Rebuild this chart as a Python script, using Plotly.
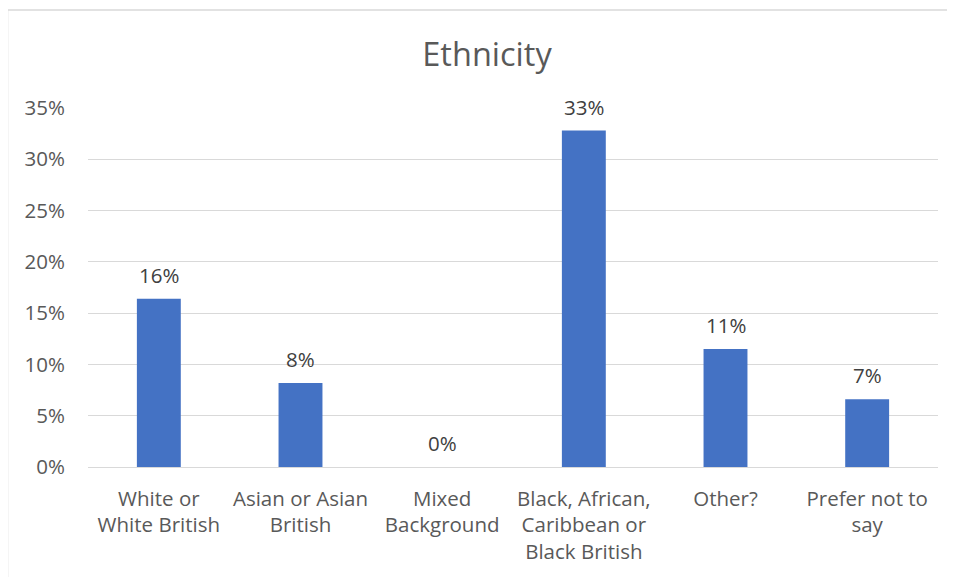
import plotly.graph_objects as go

categories = ["White or<br>White British", "Asian or Asian<br>British", "Mixed<br>Background",
              "Black, African,<br>Caribbean or<br>Black British", "Other?", "Prefer not to<br>say"]
values = [0.164, 0.082, 0.0, 0.328, 0.115, 0.066]
labels = ["16%", "8%", "0%", "33%", "11%", "7%"]
tick_vals = [0, 0.05, 0.10, 0.15, 0.20, 0.25, 0.30, 0.35]
tick_text = ["0%", "5%", "10%", "15%", "20%", "25%", "30%", "35%"]

font_family = "Open Sans, Liberation Sans, sans-serif"
fs = 20.5

fig = go.Figure(go.Bar(
    x=categories, y=values,
    marker=dict(color="#4472C4", line=dict(width=0)),
    width=0.31, cliponaxis=False, hoverinfo="x+y",
))
for c, v, t in zip(categories, values, labels):
    fig.add_annotation(x=c, y=v, text=t, showarrow=False, yanchor="bottom", yshift=8,
                       font=dict(size=fs, color="#404040", family=font_family))

fig.update_layout(
    width=947, height=569,
    margin=dict(l=80, r=17, t=100, b=104),
    paper_bgcolor="white", plot_bgcolor="white",
    title=dict(text="Ethnicity", x=(487 - 8) / 947, xref="container",
               y=1 - (55 - 8) / 569, yref="container",
               xanchor="center", yanchor="middle",
               font=dict(size=32.5, color="#595959", family=font_family)),
    showlegend=False,
    font=dict(family=font_family, color="#595959"),
)
fig.update_yaxes(range=[0, 0.35], tickvals=tick_vals, ticktext=tick_text,
                 showgrid=True, gridcolor="#d9d9d9", gridwidth=1,
                 zeroline=True, zerolinecolor="#d9d9d9", zerolinewidth=1,
                 tickfont=dict(size=fs, color="#595959"), ticks="", ticklabelstandoff=22)
fig.update_xaxes(showline=False, tickfont=dict(size=fs, color="#595959"), ticks="",
                 ticklabelstandoff=17)
fig.add_shape(type="rect", xref="paper", yref="paper", x0=-0.0947, y0=-1, x1=2, y1=1.273,
              line=dict(color="#d9d9d9", width=1.5), fillcolor="rgba(0,0,0,0)", layer="below")

fig.write_html("out.html")
